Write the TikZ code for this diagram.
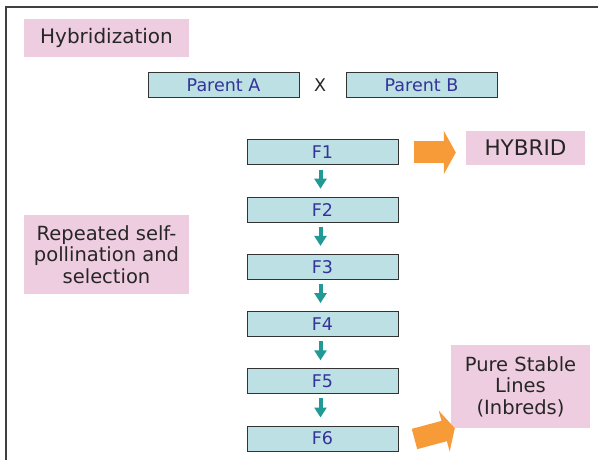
\documentclass[tikz,border=0pt]{standalone}
\usepackage{fontspec}
\setmainfont{DejaVu Sans}
\usetikzlibrary{arrows.meta}

\definecolor{pinkbox}{RGB}{239,205,225}
\definecolor{genbox}{RGB}{188,224,227}
\definecolor{gentext}{RGB}{51,51,153}
\definecolor{tealarrow}{RGB}{33,154,150}
\definecolor{orangearrow}{RGB}{247,154,56}

\begin{document}
\begin{tikzpicture}[x=1pt,y=-1pt,
    note box/.style={fill=pinkbox,inner sep=0pt,align=center,
        font=\fontsize{19.5}{21.5}\selectfont,text=black!85},
    gen box/.style={draw=black!80,line width=1pt,fill=genbox,
        minimum width=151pt,minimum height=25pt,inner sep=0pt,
        font=\fontsize{17.5}{18}\selectfont,text=gentext},
    gen arrow/.style={tealarrow,line width=4pt,
        -{Triangle[width=12pt,length=10pt]}},
    big arrow/.style={orangearrow,line width=22pt,
        -{Triangle[width=43pt,length=12pt]}}]

    \useasboundingbox (0,0) rectangle (598,460);

    % Frame
    \draw[black!75,line width=1.5pt] (6,460) -- (6,7) -- (598,7);

    % Place the pink notes
    \node[note box,minimum width=165pt,minimum height=38pt,font=\fontsize{20}{22}\selectfont]
        (hyb) at (106.5,38) {Hybridization};
    \node[note box,minimum width=165pt,minimum height=79pt] (rep) at (106.5,254.5)
        {Repeated self-\\pollination and\\selection};
    \node[note box,minimum width=119pt,minimum height=34pt,font=\fontsize{21.5}{22}\selectfont]
        (hybrid) at (525.5,148) {HYBRID};
    \node[note box,minimum width=139pt,minimum height=83pt] (pure) at (520.5,386.5)
        {Pure Stable\\Lines\\(Inbreds)};

    % Place the parents
    \node[gen box] (pa) at (223.5,85.5) {Parent A};
    \node[font=\fontsize{17.5}{18}\selectfont,text=black!85] (cross) at (320,85) {X};
    \node[gen box] (pb) at (421.5,85.5) {Parent B};

    % Place the generations
    \foreach \i in {1,...,6}
        \node[gen box] (F\i) at (322.5,{152.5+57.2*(\i-1)}) {F\i};

    % Draw the arrows
    \foreach \i [evaluate=\i as \j using int(\i+1)] in {1,...,5}
        \draw[gen arrow,shorten <=4pt,shorten >=8pt]
            ([xshift=-2pt]F\i.south) -- ([xshift=-2pt]F\j.north);
    \draw[big arrow,shorten <=15pt,shorten >=10pt] (F1.east) -- (F1.east -| hybrid.west);
    \draw[big arrow,line width=21pt,-{Triangle[width=42pt,length=11pt]}]
        ([xshift=16pt,yshift=-0.5pt]F6.east) -- ([xshift=4pt]pure.south west);

\end{tikzpicture}
\end{document}
